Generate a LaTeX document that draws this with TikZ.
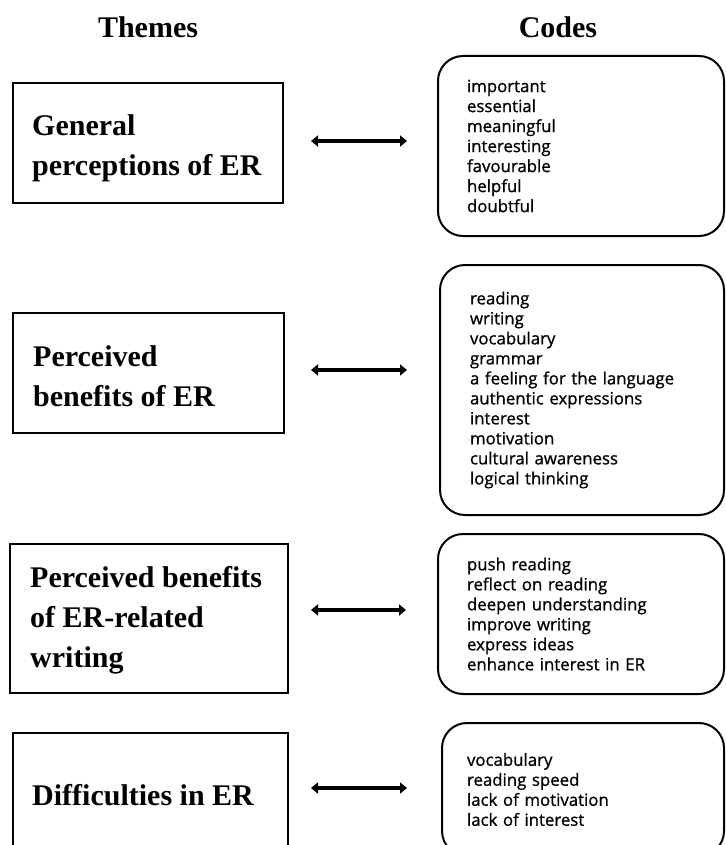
\documentclass[tikz,border=0pt]{standalone}
\usepackage{fontspec}
\setmainfont{Liberation Serif}
\newfontfamily\codefont[FakeBold=0.9]{Open Sans}
\usetikzlibrary{arrows.meta}
\tikzset{
  theme/.style={draw=black, line width=2pt, rectangle, inner sep=0pt},
  themetext/.style={anchor=west, inner sep=0pt,
    font=\fontsize{30}{40}\selectfont\bfseries, align=left},
  codebox/.style={draw=black, line width=2pt, rounded corners=25pt, inner ysep=0pt,
    font=\codefont\fontsize{16.8}{20}\selectfont, align=left},
  head/.style={font=\fontsize{30}{36}\selectfont\bfseries},
  arr/.style={line width=4pt, {Triangle[width=11pt,length=7pt]}-{Triangle[width=11pt,length=7pt]}}
}
\begin{document}
\begin{tikzpicture}[x=1pt,y=-1pt]
\useasboundingbox (0,0) rectangle (725,845);
\clip (0,0) rectangle (725,845);
\fill[white] (0,0) rectangle (725,845);

\node[head] (hthemes) at (148,27) {Themes};
\node[head] (hcodes) at (558,27) {Codes};

\node[theme, minimum width=270pt, minimum height=120pt] (t1) at (148,143) {};
\node[theme, minimum width=271pt, minimum height=120pt] (t2) at (148.5,373) {};
\node[theme, minimum width=278pt, minimum height=149pt] (t3) at (149,618.5) {};
\node[theme, minimum width=275pt, minimum height=124pt] (t4) at (150.5,795) {};

\node[themetext] (t1x) at (32,148) {General\\perceptions of ER};
\node[themetext] (t2x) at (33,376.5) {Perceived\\benefits of ER};
\node[themetext] (t3x) at (30,620) {Perceived benefits\\of ER-related\\writing};
\node[themetext] (t4x) at (32,795) {Difficulties in ER};

\node[codebox, minimum width=286pt, minimum height=180pt, inner xsep=29pt, text width=228pt] (c1) at (581,146)
  {important\\essential\\meaningful\\interesting\\favourable\\helpful\\doubtful};
\node[codebox, minimum width=284pt, minimum height=250pt, inner xsep=30pt, text width=224pt] (c2) at (582,390)
  {reading\\writing\\vocabulary\\grammar\\a feeling for the language\\authentic expressions\\interest\\motivation\\cultural awareness\\logical thinking};
\node[codebox, minimum width=286pt, minimum height=160pt, inner xsep=29pt, text width=228pt] (c3) at (581,614)
  {push reading\\reflect on reading\\deepen understanding\\improve writing\\express ideas\\enhance interest in ER};
\node[codebox, minimum width=282pt, minimum height=133pt, inner xsep=25pt, text width=232pt] (c4) at (583,789.5)
  {vocabulary\\reading speed\\lack of motivation\\lack of interest};

\draw[arr, shorten <=27pt, shorten >=30pt] (t1.east |- 0,141) -- (c1.west |- 0,141);
\draw[arr, shorten <=26pt, shorten >=32pt] (t2.east |- 0,370) -- (c2.west |- 0,370);
\draw[arr, shorten <=22pt, shorten >=31pt] (t3.east |- 0,610) -- (c3.west |- 0,610);
\draw[arr, shorten <=22pt, shorten >=34pt] (t4.east |- 0,788) -- (c4.west |- 0,788);
\end{tikzpicture}
\end{document}
